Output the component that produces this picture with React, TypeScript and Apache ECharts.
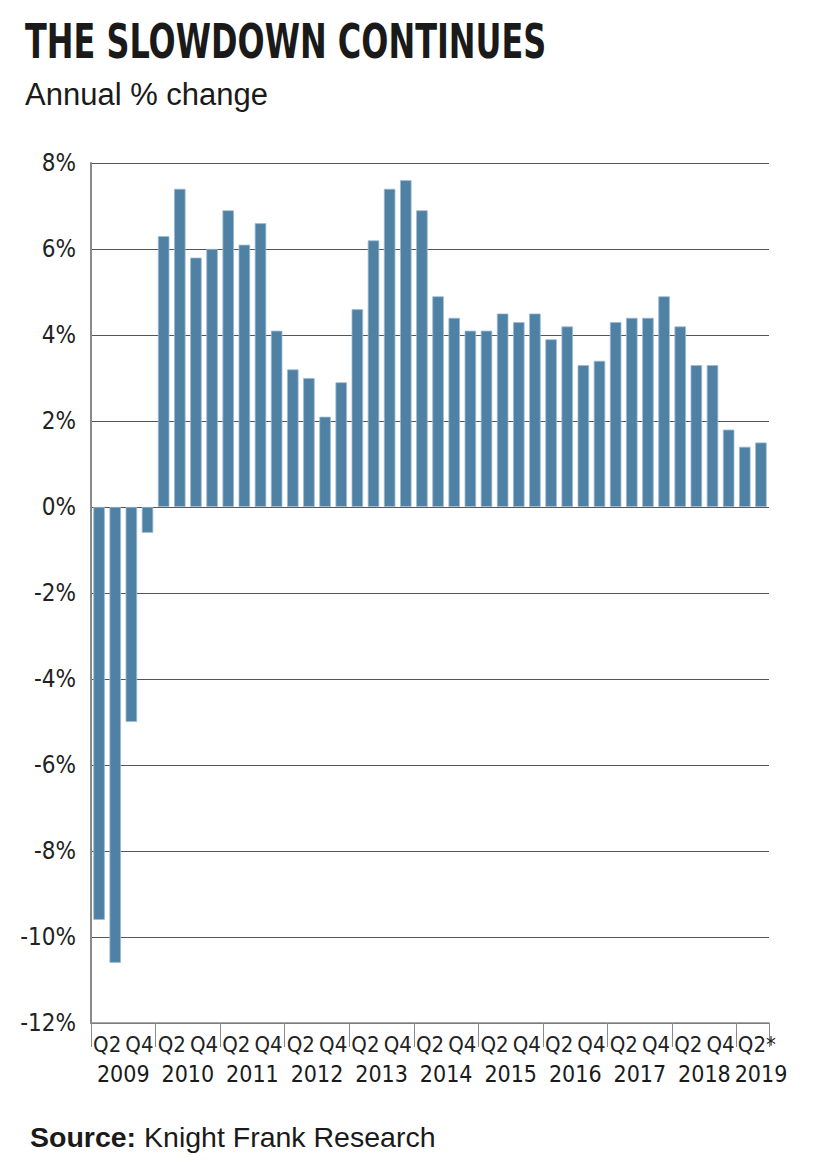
import React, { useEffect, useRef } from "react";
import * as echarts from "echarts";

const years = ["2009", "2010", "2011", "2012", "2013", "2014", "2015", "2016", "2017", "2018", "2019"];
const quarters = [
  "2009 Q1", "2009 Q2", "2009 Q3", "2009 Q4",
  "2010 Q1", "2010 Q2", "2010 Q3", "2010 Q4",
  "2011 Q1", "2011 Q2", "2011 Q3", "2011 Q4",
  "2012 Q1", "2012 Q2", "2012 Q3", "2012 Q4",
  "2013 Q1", "2013 Q2", "2013 Q3", "2013 Q4",
  "2014 Q1", "2014 Q2", "2014 Q3", "2014 Q4",
  "2015 Q1", "2015 Q2", "2015 Q3", "2015 Q4",
  "2016 Q1", "2016 Q2", "2016 Q3", "2016 Q4",
  "2017 Q1", "2017 Q2", "2017 Q3", "2017 Q4",
  "2018 Q1", "2018 Q2", "2018 Q3", "2018 Q4",
  "2019 Q1", "2019 Q2*",
];
const values = [
  -9.6, -10.6, -5.0, -0.6,
  6.3, 7.4, 5.8, 6.0,
  6.9, 6.1, 6.6, 4.1,
  3.2, 3.0, 2.1, 2.9,
  4.6, 6.2, 7.4, 7.6,
  6.9, 4.9, 4.4, 4.1,
  4.1, 4.5, 4.3, 4.5,
  3.9, 4.2, 3.3, 3.4,
  4.3, 4.4, 4.4, 4.9,
  4.2, 3.3, 3.3, 1.8,
  1.4, 1.5,
];
const yTicks = { min: -12, max: 8, interval: 2 };

const NARROW = "'Liberation Sans Narrow', 'DejaVu Sans Condensed', 'Roboto', sans-serif";
const SANS = "'Liberation Sans', 'Roboto', sans-serif";

export default function App() {
  const ref = useRef<HTMLDivElement>(null);
  useEffect(() => {
    document.body.style.margin = "0";
    const chart = echarts.init(ref.current!, null, { renderer: "svg" });
    const n = quarters.length;
    const quarterLabel = (v: number) => {
      const i = Math.round(v);
      if (i < 1 || i >= n || i % 2 !== 1) return "";
      const q = quarters[i].split(" ")[1];
      return i === n - 1 ? "{e|" + q + "}" : q;
    };
    const yearLabel = (v: number) => {
      if (v % 4 !== 2) return "";
      const y = years[(v - 2) / 4];
      if (!y) return "";
      return v >= n ? "{s|" + y + "}" : y;
    };
    chart.setOption({
      animation: false,
      grid: { left: 91, right: 53, top: 163, bottom: 149, containLabel: false },
      graphic: [
        {
          type: "text", x: 25, y: 18, scaleX: 0.74,
          style: { text: "THE SLOWDOWN CONTINUES", font: "bold 48px " + NARROW, fill: "#1a1a1a", textVerticalAlign: "top" },
        },
        {
          type: "text", x: 25, y: 79,
          style: { text: "Annual % change", font: "31px " + SANS, fill: "#1a1a1a", textVerticalAlign: "top" },
        },
        {
          type: "text", x: 30, y: 1122,
          style: {
            text: "{b|Source:} Knight Frank Research",
            font: "28.5px " + SANS, fill: "#1a1a1a", textVerticalAlign: "top",
            rich: {
              b: { font: "bold 28.5px " + SANS, fill: "#1a1a1a" },
            },
          },
        },
      ],
      xAxis: [
        {
          type: "category",
          data: quarters,
          position: "bottom",
          axisLine: { onZero: false, lineStyle: { color: "#8a8a8a", width: 1.5 } },
          axisTick: { show: true, interval: 3, length: 24, lineStyle: { color: "#8a8a8a", width: 1 } },
          axisLabel: { show: false },
          splitLine: { show: false },
        },
        {
          type: "value", min: 0, max: n, interval: 1, position: "bottom",
          axisLine: { show: false }, axisTick: { show: false }, splitLine: { show: false },
          axisLabel: {
            formatter: quarterLabel, margin: 10, color: "#222",
            fontFamily: NARROW, fontSize: 22, showMinLabel: true, showMaxLabel: true,
            rich: { e: { fontFamily: NARROW, fontSize: 22, color: "#222", padding: [0, 0, 0, 8] } },
          },
        },
        {
          type: "value", min: 0, max: n, interval: 2, position: "bottom",
          axisLine: { show: false }, axisTick: { show: false }, splitLine: { show: false },
          axisLabel: {
            formatter: yearLabel, margin: 39, color: "#1a1a1a",
            fontFamily: NARROW, fontSize: 23, fontWeight: 500,
            showMinLabel: true, showMaxLabel: true,
            rich: { s: { fontFamily: NARROW, fontSize: 23, fontWeight: 500, color: "#1a1a1a", padding: [0, 16, 0, 0] } },
          },
        },
      ],
      yAxis: {
        type: "value",
        min: yTicks.min, max: yTicks.max, interval: yTicks.interval,
        axisLine: { show: true, lineStyle: { color: "#8a8a8a", width: 2 } },
        axisTick: { show: false },
        axisLabel: { formatter: "{value}%", color: "#222", fontFamily: NARROW, fontSize: 24, margin: 15 },
        splitLine: { show: true, lineStyle: { color: "#555", width: 1 } },
      },
      series: [
        {
          type: "bar",
          data: values,
          xAxisIndex: 0,
          barWidth: 11.5,
          itemStyle: { color: "#4e81a3", borderColor: "#9dbbd0", borderWidth: 0.8 },
        },
      ],
    });
    return () => chart.dispose();
  }, []);
  return <div ref={ref} style={{ width: 822, height: 1172 }} />;
}
